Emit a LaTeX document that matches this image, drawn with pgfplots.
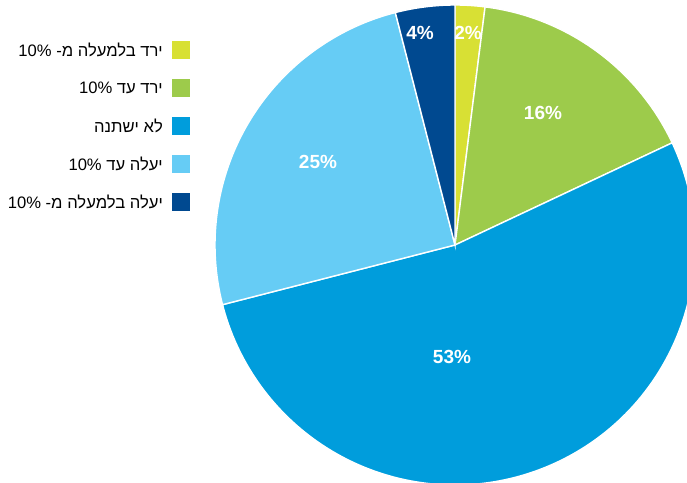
\documentclass[border=0pt]{standalone}
\usepackage{pgfplots}
\pgfplotsset{compat=1.18}
\usepackage{fontspec}
\setmainfont{Liberation Sans}
\newfontfamily\hebfont[Script=Hebrew]{Liberation Sans}
\TeXXeTstate=1

\definecolor{cA}{RGB}{216,224,52}
\definecolor{cB}{RGB}{157,203,75}
\definecolor{cC}{RGB}{0,157,220}
\definecolor{cD}{RGB}{102,204,245}
\definecolor{cE}{RGB}{0,73,144}

% centre and radius of the pie, in axis units (1 unit = 1pt)
\newcommand{\cx}{455}
\newcommand{\cy}{237}
\newcommand{\rad}{240}
% #1 share before this slice, #2 share of the slice, #3 colour
\newcommand{\slice}[3]{%
  \fill[#3, draw=white, line width=1.4pt] (axis cs:\cx,\cy) -- ++({90-3.6*(#1)}:\rad pt)
    arc[start angle={90-3.6*(#1)}, end angle={90-3.6*(#1+#2)}, radius=\rad pt] -- cycle;}
% legend row: #1 y (pixels from top), #2 colour, #3 text
\newcommand{\legrow}[3]{%
  \fill[#2] (axis cs:172,{482-#1-9}) rectangle (axis cs:190,{482-#1+9});
  \node[anchor=east, inner sep=0pt, font=\hebfont\fontsize{16.6}{19}\selectfont]
    at (axis cs:163,{482-#1}) {#3};}

\begin{document}
\begin{tikzpicture}
\begin{axis}[
  x=1pt, y=1pt,
  xmin=0, xmax=687, ymin=0, ymax=482,
  hide axis,
  clip=true,
]
\coordinate (bl) at (rel axis cs:0,0);
\coordinate (tr) at (rel axis cs:1,1);

% shares in percent, clockwise from the top
\slice{0}{2}{cA}
\slice{2}{16}{cB}
\slice{18}{53}{cC}
\slice{71}{25}{cD}
\slice{96}{4}{cE}

\begin{scope}[every node/.style={text=white, font=\fontsize{19}{22}\selectfont\bfseries}]
\node at (axis cs:468,{482-33}) {2\%};
\node at (axis cs:543,{482-113}) {16\%};
\node at (axis cs:452,{482-357}) {53\%};
\node at (axis cs:318,{482-162}) {25\%};
\node at (axis cs:420,{482-33}) {4\%};
\end{scope}

\legrow{50}{cA}{\beginR ירד בלמעלה מ- \beginL 10\%\endL{}\endR}
\legrow{88}{cB}{\beginR ירד עד \beginL 10\%\endL{}\endR}
\legrow{126}{cC}{\beginR לא ישתנה\endR}
\legrow{164}{cD}{\beginR יעלה עד \beginL 10\%\endL{}\endR}
\legrow{202}{cE}{\beginR יעלה בלמעלה מ- \beginL 10\%\endL{}\endR}
\end{axis}
\pgfresetboundingbox
\path (bl) rectangle (tr);
\end{tikzpicture}
\end{document}
